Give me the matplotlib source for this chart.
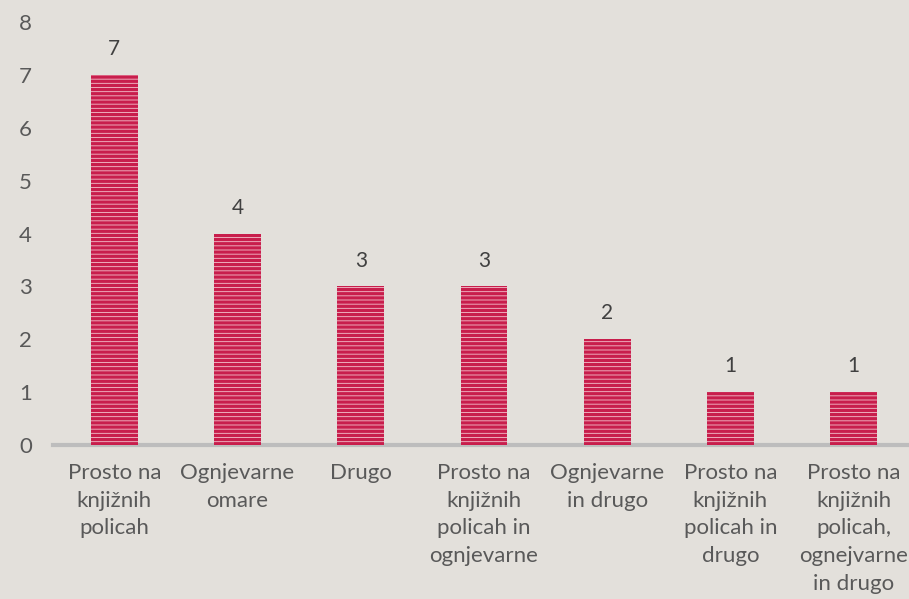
import matplotlib
matplotlib.use("Agg")
from matplotlib import pyplot as plt

# data
categories = [
    "Prosto na\nknjižnih\npolicah",
    "Ognjevarne\nomare",
    "Drugo",
    "Prosto na\nknjižnih\npolicah in\nognjevarne",
    "Ognjevarne\nin drugo",
    "Prosto na\nknjižnih\npolicah in\ndrugo",
    "Prosto na\nknjižnih\npolicah,\nognejvarne\nin drugo",
]
values = [7, 4, 3, 3, 2, 1, 1]
y_ticks = [0, 1, 2, 3, 4, 5, 6, 7, 8]

bg = "#E3E0DB"
text_col = "#595959"

plt.rcParams["font.family"] = ["Lato", "DejaVu Sans"]
plt.rcParams["hatch.linewidth"] = 2.4
plt.rcParams["hatch.color"] = "#C81E4C"

fig = plt.figure(figsize=(9.09, 5.99), dpi=100, facecolor=bg)
ax = fig.add_axes([0.058, 0.257, 0.942, 0.706])
ax.set_facecolor(bg)

x = list(range(len(categories)))
bars = ax.bar(x, values, width=0.38, color="#F4C2CD", edgecolor="#C81E4C",
              linewidth=0, hatch="----", zorder=3)

for xi, v in zip(x, values):
    ax.text(xi, v + 0.3, str(v), ha="center", va="bottom",
            fontsize=15, color="#404040")

ax.set_xlim(-0.5, 6.45)
ax.set_ylim(0, 8)
ax.set_yticks(y_ticks)
ax.set_xticks(x)
ax.set_xticklabels(categories, fontsize=16, color=text_col, linespacing=1.48, va="top")
ax.tick_params(axis="y", length=0, pad=15, labelsize=16, labelcolor=text_col)
ax.tick_params(axis="x", length=0, pad=13)

for s in ["top", "right", "left"]:
    ax.spines[s].set_visible(False)
ax.spines["bottom"].set_color("#BDBDBD")
ax.spines["bottom"].set_linewidth(3)

fig.savefig("out.png", dpi=100, facecolor=bg)
